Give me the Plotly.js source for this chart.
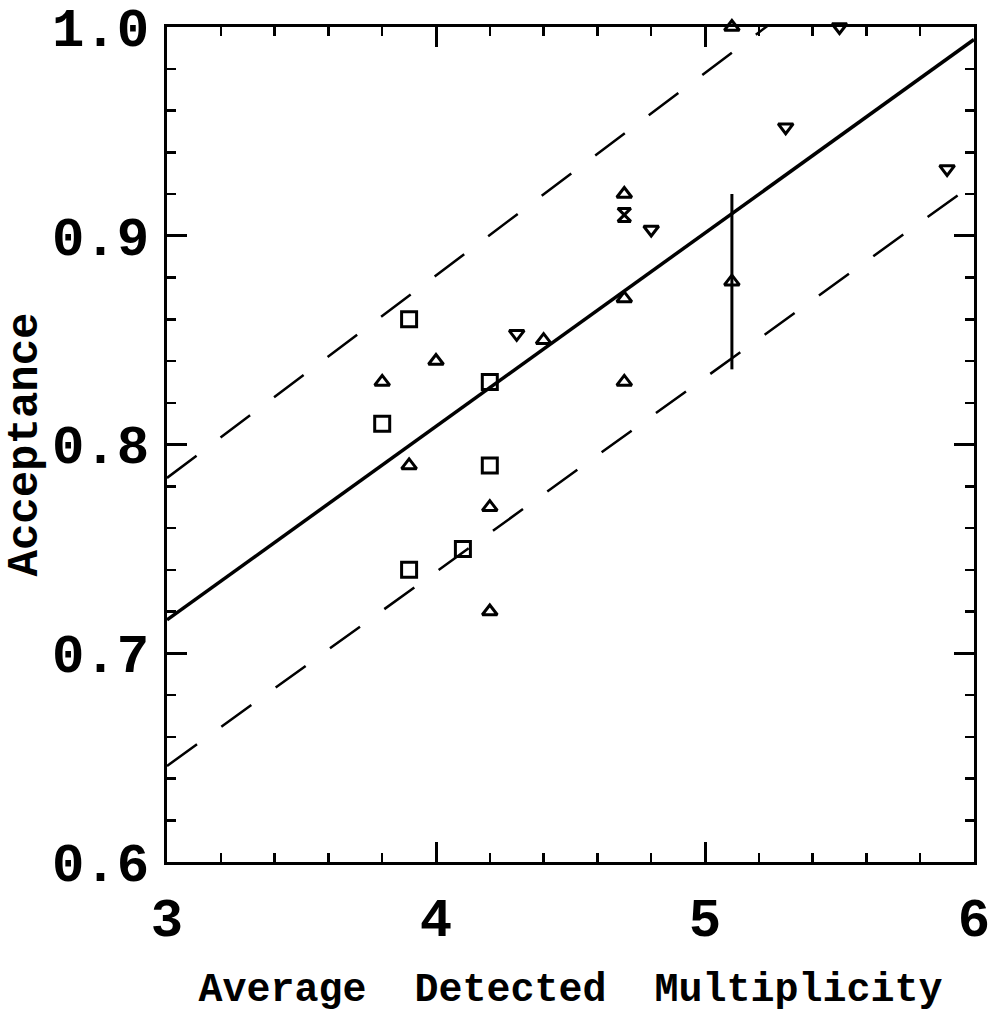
<!DOCTYPE html>
<html>
<head>
<meta charset="utf-8">
<script src="https://cdn.plot.ly/plotly-3.0.1.min.js"></script>
<style>html,body{margin:0;padding:0;background:#fff;}#chart{width:996px;height:1013px;}</style>
</head>
<body>
<div id="chart"></div>
<script>
// Data
const squareX = [3.9, 3.8, 4.2, 4.2, 4.1, 3.9];
const squareY = [0.86, 0.81, 0.83, 0.79, 0.75, 0.74];

const upX = [3.8, 4.0, 3.9, 4.2, 4.2, 4.4, 4.7, 4.7, 4.7, 5.1];
const upY = [0.83, 0.84, 0.79, 0.77, 0.72, 0.85, 0.87, 0.83, 0.92, 1.0];

const downX = [4.3, 4.8, 5.3, 5.5, 5.9];
const downY = [0.853, 0.903, 0.952, 1.0, 0.932];

const hourX = [4.7];
const hourY = [0.91];

const errX = [5.1];
const errY = [0.878];
const errSize = [0.042];

const fitX = [3, 6];
const fitY = [0.716, 0.994];
const upperY = [0.784, 1.075];
const lowerY = [0.646, 0.925];

const xTicks = [3, 4, 5, 6];
const yTicks = [0.6, 0.7, 0.8, 0.9, 1.0];

const FONT = '"Liberation Mono", "Courier New", monospace';
const mk = (sym, size) => ({symbol: sym, size: size, color: '#000', line: {color: '#000', width: 3}});

const traces = [
  {x: fitX, y: fitY, mode: 'lines', line: {color: '#000', width: 3.5}, hoverinfo: 'skip'},
  {x: fitX, y: upperY, mode: 'lines', line: {color: '#000', width: 2.5, dash: '37px,30px'}, hoverinfo: 'skip'},
  {x: fitX, y: lowerY, mode: 'lines', line: {color: '#000', width: 2.5, dash: '37px,30px'}, hoverinfo: 'skip'},
  {x: squareX, y: squareY, mode: 'markers', marker: mk('square-open', 15), cliponaxis: false},
  {x: upX, y: upY, mode: 'markers', marker: mk('triangle-up-open', 13), cliponaxis: false},
  {x: downX, y: downY, mode: 'markers', marker: mk('triangle-down-open', 13), cliponaxis: false},
  {x: hourX, y: hourY, mode: 'markers', marker: mk('hourglass-open', 13), cliponaxis: false},
  {x: errX, y: errY, mode: 'markers', marker: mk('triangle-up-open', 13),
   error_y: {type: 'data', array: errSize, visible: true, color: '#000', thickness: 3, width: 0}, cliponaxis: false}
];

const axisCommon = {
  showgrid: false, zeroline: false, showline: true, linecolor: '#000', linewidth: 3,
  mirror: 'ticks', ticks: 'inside', tickcolor: '#000', tickwidth: 3,
  tickfont: {family: FONT, size: 54, color: '#000', weight: 'bold'}
};

const layout = {
  width: 996, height: 1013,
  margin: {l: 167, r: 22, t: 27, b: 151},
  paper_bgcolor: '#fff', plot_bgcolor: '#fff',
  showlegend: false,
  xaxis: Object.assign({}, axisCommon, {
    range: [3, 6], tickvals: xTicks, ticktext: xTicks.map(String), ticklen: 20,
    ticklabelstandoff: 6,
    minor: {dtick: 0.2, ticks: 'inside', ticklen: 9, tickwidth: 2.5, tickcolor: '#000'},
    title: {text: 'Average  Detected  Multiplicity', standoff: 32,
            font: {family: FONT, size: 40, color: '#000', weight: 'bold'}}
  }),
  yaxis: Object.assign({}, axisCommon, {
    range: [0.6, 1.0], tickvals: yTicks, ticktext: yTicks.map(v => v.toFixed(1)), ticklen: 20,
    ticklabelstandoff: 4,
    minor: {dtick: 0.02, ticks: 'inside', ticklen: 9, tickwidth: 2.5, tickcolor: '#000'},
    title: {text: 'Acceptance', standoff: 2,
            font: {family: FONT, size: 44, color: '#000', weight: 'bold'}}
  })
};

Plotly.newPlot('chart', traces, layout, {displayModeBar: false, staticPlot: true});
</script>
</body>
</html>
